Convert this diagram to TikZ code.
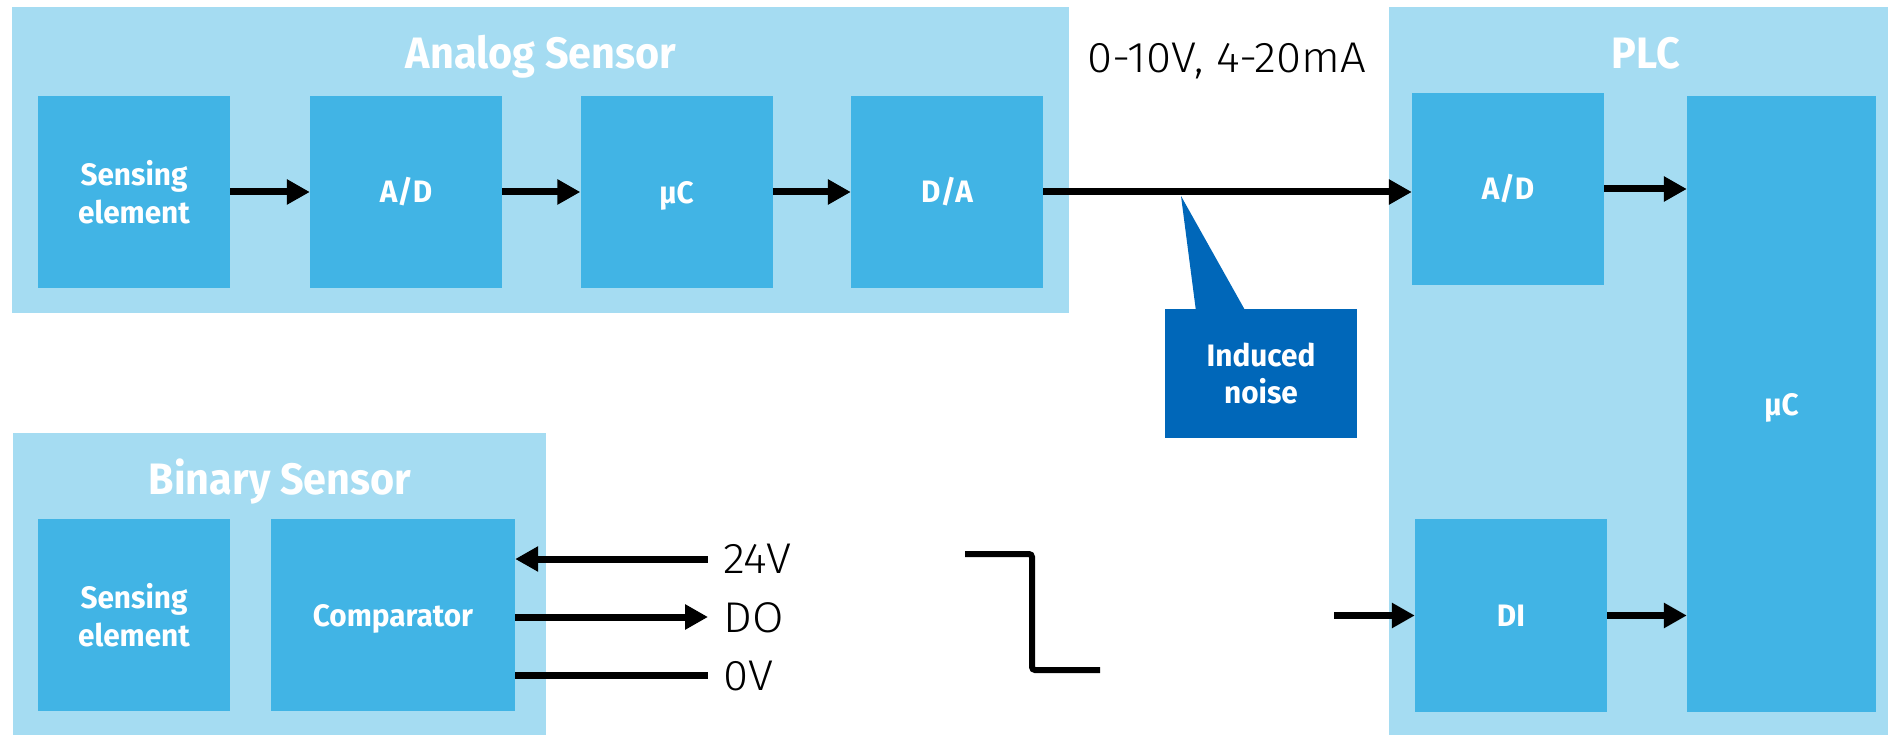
\documentclass[tikz,border=0pt]{standalone}
\usepackage{fontspec}
\setmainfont{Fira Sans}
\newfontfamily\boldf{Fira Sans}[FakeStretch=0.96,UprightFont=* Bold]
\newfontfamily\titlef{Fira Sans}[FakeStretch=0.94,UprightFont=* Bold]
\newfontfamily\regf{Fira Sans}[FakeStretch=1.06,UprightFont=* Light]
\usetikzlibrary{arrows.meta}
\definecolor{outerblue}{HTML}{A5DCF2}
\definecolor{innerblue}{HTML}{41B4E5}
\definecolor{noiseblue}{HTML}{0067B9}
\tikzset{
  container/.style={fill=outerblue, draw=none},
  blk/.style={fill=innerblue, draw=none, text=white, align=center,
    font=\boldf\fontsize{31}{38}\selectfont, inner sep=0pt},
  title/.style={text=white, font=\titlef\fontsize{44}{50}\selectfont, anchor=base, inner sep=0pt},
  sig/.style={text=black, font=\regf\fontsize{43}{50}\selectfont, anchor=base west, inner sep=0pt},
  arr/.style={line width=7pt, -{Triangle[length=23pt,width=24pt]}},
  arrl/.style={line width=7pt, {Triangle[length=23pt,width=24pt]}-},
  wire/.style={line width=7pt},
  wave/.style={line width=6pt, rounded corners=3pt},
  noisebox/.style={fill=noiseblue, draw=none, text=white, align=center,
    font=\boldf\fontsize{31}{37}\selectfont, inner sep=0pt,
    minimum width=192pt, minimum height=129pt}
}
\begin{document}
\begin{tikzpicture}[x=1pt,y=-1pt]
\useasboundingbox (0,0) rectangle (1888,735);
% containers
\fill[container] (12,7) rectangle (1069,313);
\fill[container] (13,433) rectangle (546,735);
\fill[container] (1389,7) rectangle (1888,735);
\node[title] (tana) at (541,69) {Analog Sensor};
\node[title] (tbin) at (280,494) {Binary Sensor};
\node[title] (tplc) at (1646,69) {PLC};
% analog sensor chain
\node[blk, minimum width=192pt, minimum height=192pt] (se1) at (134,192) {Sensing\\element};
\node[blk, minimum width=192pt, minimum height=192pt] (ad1) at (406,192) {A/D};
\node[blk, minimum width=192pt, minimum height=192pt, text depth=0pt] (mu1) at (676.5,192) {µC};
\node[blk, minimum width=192pt, minimum height=192pt] (da1) at (947,192) {D/A};
\draw[arr] (se1.east) -- (ad1.west);
\draw[arr] (ad1.east) -- (mu1.west);
\draw[arr] (mu1.east) -- (da1.west);
% PLC
\node[blk, minimum width=192pt, minimum height=192pt] (pad) at (1508,189) {A/D};
\node[blk, minimum width=192pt, minimum height=193pt] (pdi) at (1511,615.5) {DI};
\node[blk, minimum width=189pt, minimum height=616pt, text depth=0pt] (pmu) at (1781.5,404) {µC};
\draw[arr] (da1.east) -- (da1.east -| pad.west);
\draw[arr] (pad.east) -- (pad.east -| pmu.west);
\draw[arr] (pdi.east) -- (pdi.east -| pmu.west);
\coordinate (distart) at (1334,615.5);
\draw[arr] (distart) -- (pdi.west);
% signal label
\node[sig, anchor=base] (range) at (1227,73) {0-10V, 4-20mA};
% induced noise callout
\node[noisebox] (noise) at (1261,373.5) {Induced\\noise};
\coordinate (ntip) at (1181,196);
\fill[noiseblue] ([xshift=31pt,yshift=-1pt]noise.north west) -- (ntip) -- ([xshift=80pt,yshift=-1pt]noise.north west) -- cycle;
% binary sensor
\node[blk, minimum width=192pt, minimum height=192pt] (se2) at (134,615) {Sensing\\element};
\node[blk, minimum width=244pt, minimum height=192pt, text depth=0pt] (cmp) at (393,615) {Comparator};
\coordinate (e24) at (708,559);
\coordinate (edo) at (708,617);
\coordinate (e0v) at (708,675);
\draw[arrl] (e24 -| cmp.east) -- (e24);
\draw[arr] (edo -| cmp.east) -- (edo);
\draw[wire] (e0v -| cmp.east) -- (e0v);
\node[sig] (l24) at (723,573) {24V};
\node[sig] (ldo) at (723,632) {DO};
\node[sig] (l0v) at (723,690) {0V};
% step waveform
\coordinate (w1) at (965,554);
\coordinate (w2) at (1032,554);
\coordinate (w3) at (1032,670);
\coordinate (w4) at (1100,670);
\draw[wave] (w1) -- (w2) -- (w3) -- (w4);
\end{tikzpicture}
\end{document}
